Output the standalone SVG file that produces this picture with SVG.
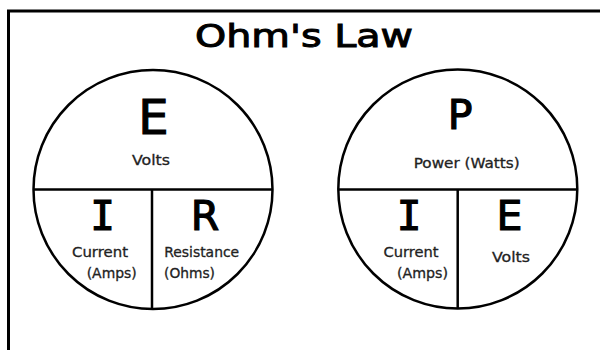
<svg xmlns="http://www.w3.org/2000/svg" width="600" height="350" viewBox="0 0 600 350">
  <style>
    .frame { fill: none; stroke: #000; stroke-width: 3; }
    .ring { fill: #fff; stroke: #000; stroke-width: 2.5; }
    .div { stroke: #000; stroke-width: 2.5; fill: none; }
    .title { font-family: "DejaVu Sans", sans-serif; font-size: 32px; fill: #000; stroke: #000; stroke-width: 1; text-anchor: middle; }
    .big { font-family: "DejaVu Sans", sans-serif; font-size: 41px; fill: #000; stroke: #000; stroke-width: 1.2; text-anchor: middle; }
    .bigI { font-family: "DejaVu Sans Mono", monospace; font-size: 41px; fill: #000; stroke: #000; stroke-width: 1.2; text-anchor: middle; }
    .lbl { font-family: "DejaVu Sans", sans-serif; font-size: 14px; fill: #222; stroke: #222; stroke-width: 0.3; text-anchor: middle; }
  </style>
  <rect width="600" height="350" fill="#fff"/>
  <path class="frame" d="M8.5,352 V11 H602"/>
  <g id="title">
    <text class="title" x="304" y="47" textLength="218" lengthAdjust="spacingAndGlyphs">Ohm's Law</text>
  </g>
  <g id="circle-eir">
    <circle class="ring" cx="153" cy="189.5" r="119.5"/>
    <g id="connectors-eir">
      <line class="div" x1="33.5" y1="189.5" x2="272.5" y2="189.5"/>
      <line class="div" x1="152" y1="189.5" x2="152" y2="309"/>
    </g>
    <g id="eir-e">
      <text class="big" x="153.5" y="133.5" style="font-size:48px">E</text>
      <text class="lbl" x="151" y="165" textLength="38" lengthAdjust="spacingAndGlyphs">Volts</text>
    </g>
    <g id="eir-i">
      <text class="bigI" x="102.5" y="230">I</text>
      <text class="lbl" x="100" y="257" textLength="56" lengthAdjust="spacingAndGlyphs">Current</text>
      <text class="lbl" x="111.7" y="278" textLength="50" lengthAdjust="spacingAndGlyphs">(Amps)</text>
    </g>
    <g id="eir-r">
      <text class="big" x="205" y="230">R</text>
      <text class="lbl" x="201.7" y="257" textLength="75" lengthAdjust="spacingAndGlyphs">Resistance</text>
      <text class="lbl" x="189.5" y="278" textLength="51" lengthAdjust="spacingAndGlyphs">(Ohms)</text>
    </g>
  </g>
  <g id="circle-pie">
    <circle class="ring" cx="457.8" cy="189" r="119.5"/>
    <g id="connectors-pie">
      <line class="div" x1="338.3" y1="189.5" x2="577.3" y2="189.5"/>
      <line class="div" x1="457.7" y1="189.5" x2="457.7" y2="308.5"/>
    </g>
    <g id="pie-p">
      <text class="big" x="460" y="128.5">P</text>
      <text class="lbl" x="466.7" y="168" textLength="106" lengthAdjust="spacingAndGlyphs">Power (Watts)</text>
    </g>
    <g id="pie-i">
      <text class="bigI" x="409" y="230">I</text>
      <text class="lbl" x="411" y="257" textLength="55" lengthAdjust="spacingAndGlyphs">Current</text>
      <text class="lbl" x="422.5" y="278" textLength="51" lengthAdjust="spacingAndGlyphs">(Amps)</text>
    </g>
    <g id="pie-e">
      <text class="big" x="509.5" y="230">E</text>
      <text class="lbl" x="511" y="261.7" textLength="38" lengthAdjust="spacingAndGlyphs">Volts</text>
    </g>
  </g>
</svg>
